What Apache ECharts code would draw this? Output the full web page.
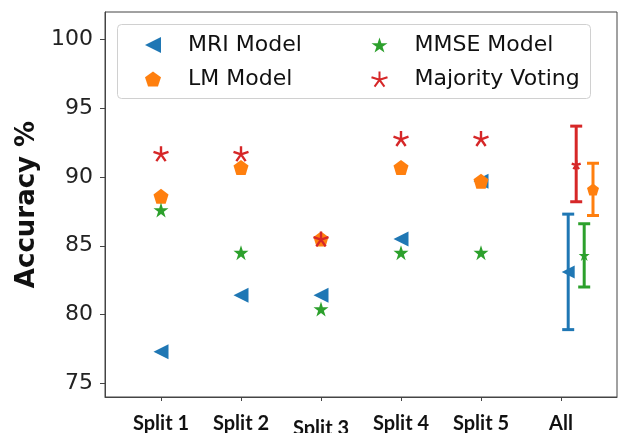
<!DOCTYPE html>
<html>
  <head>
    <meta charset="UTF-8" />
    <title>Accuracy per split</title>
    <style>
      html, body { margin: 0; padding: 0; background: #fff; }
      #chart { width: 638px; height: 433px; }
    </style>
    <script type="text/javascript" src="https://cdn.jsdelivr.net/npm/echarts@6.0.0/dist/echarts.min.js"></script>
  </head>
  <body>
    <div id="chart"></div>
    <script>
      // categories on the x axis
      var categories = ['Split 1', 'Split 2', 'Split 3', 'Split 4', 'Split 5', 'All'];
      var yTicks = [75, 80, 85, 90, 95, 100];

      // accuracy per split
      var mriSplit = [77.3, 81.4, 81.4, 85.5, 89.7];
      var lmSplit = [88.6, 90.7, 85.5, 90.7, 89.7];
      var mmseSplit = [87.6, 84.5, 80.4, 84.5, 84.5];
      var mvSplit = [91.7, 91.7, 85.5, 92.8, 92.8];

      // "All" column: [mean, low, high]
      var mriAll = [83.1, 78.9, 87.3];
      var lmAll = [89.1, 87.2, 91.0];
      var mmseAll = [84.3, 82.0, 86.6];
      var mvAll = [90.9, 88.2, 93.7];
      // x position of each error bar in the "All" column (MRI, LM, MMSE, MV)
      var allX = [5.09, 5.4, 5.29, 5.19];

      var colors = ['#1f77b4', '#ff7f0e', '#2ca02c', '#d62728'];

      var triLeft = 'path://M-1,0 L1,-1 L1,1 Z';
      var pentagon = 'path://M0,-1 L0.951,-0.309 L0.588,0.809 L-0.588,0.809 L-0.951,-0.309 Z';
      var star = 'path://M0,-1 L0.2245,-0.309 L0.951,-0.309 L0.3633,0.118 L0.588,0.809 L0,0.382 L-0.588,0.809 L-0.3633,0.118 L-0.951,-0.309 L-0.2245,-0.309 Z';
      var asterisk = 'path://M0,0 L0,-1 M0,0 L0.951,-0.309 M0,0 L0.588,0.809 M0,0 L-0.588,0.809 M0,0 L-0.951,-0.309';

      var myChart = echarts.init(document.getElementById('chart'));

      function points(split, all, idx, allSize) {
        var d = split.map(function (v, i) { return [i, v]; });
        d.push({ value: [allX[idx], all[0]], symbolSize: allSize });
        return d;
      }

      // error bars for the "All" column
      var errData = [
        [allX[0], mriAll[1], mriAll[2], 0],
        [allX[1], lmAll[1], lmAll[2], 1],
        [allX[2], mmseAll[1], mmseAll[2], 2],
        [allX[3], mvAll[1], mvAll[2], 3]
      ];

      function renderErr(params, api) {
        var x = api.value(0);
        var top = api.coord([x, api.value(2)]);
        var bot = api.coord([x, api.value(1)]);
        var st = { stroke: colors[api.value(3)], lineWidth: 3 };
        var w = 6;
        return {
          type: 'group',
          children: [
            { type: 'line', shape: { x1: top[0], y1: top[1], x2: bot[0], y2: bot[1] }, style: st },
            { type: 'line', shape: { x1: top[0] - w, y1: top[1], x2: top[0] + w, y2: top[1] }, style: st },
            { type: 'line', shape: { x1: bot[0] - w, y1: bot[1], x2: bot[0] + w, y2: bot[1] }, style: st }
          ]
        };
      }

      var legendText = {
        fontFamily: 'DejaVu Sans',
        fontSize: 22,
        color: '#111',
        padding: [0, 0, 0, 22]
      };

      var option = {
        animation: false,
        grid: {
          left: 105, right: 21, top: 12, bottom: 36,
          outerBoundsMode: 'none',
          show: true, borderColor: '#444', borderWidth: 1
        },
        graphic: [{
          type: 'rect',
          left: 117, top: 24,
          shape: { width: 473, height: 74, r: 4 },
          style: { fill: 'rgba(255,255,255,0.8)', stroke: '#d0d0d0', lineWidth: 1 },
          z: 50
        }],
        legend: [
          {
            data: ['MRI Model', 'LM Model'],
            orient: 'vertical', left: 140, top: 29,
            itemWidth: 16, itemHeight: 16, itemGap: 12,
            textStyle: legendText, z: 60
          },
          {
            data: ['MMSE Model', 'Majority Voting'],
            orient: 'vertical', left: 364, top: 29,
            itemWidth: 16, itemHeight: 16, itemGap: 12,
            textStyle: legendText, z: 60
          }
        ],
        xAxis: {
          type: 'value',
          min: -0.7, max: 5.7,
          splitLine: { show: false },
          axisLine: { show: true, onZero: false, lineStyle: { color: '#444' } },
          axisTick: { show: true, length: 4, customValues: [0, 1, 2, 3, 4, 5], lineStyle: { color: '#444' } },
          axisLabel: {
            customValues: [0, 1, 2, 3, 4, 5],
            margin: 17,
            fontFamily: 'Lato',
            fontWeight: 'bold',
            fontSize: 20,
            color: '#111',
            formatter: function (v) {
              var i = Math.round(v);
              return i === 2 ? '{low|' + categories[i] + '}' : categories[i];
            },
            rich: {
              low: { fontFamily: 'Lato', fontWeight: 'bold', fontSize: 20, color: '#111', padding: [5, 0, 0, 0] }
            }
          }
        },
        yAxis: {
          type: 'value',
          min: 74, max: 102,
          name: 'Accuracy %',
          nameLocation: 'middle',
          nameGap: 61,
          nameTextStyle: { fontFamily: 'DejaVu Sans', fontWeight: 'bold', fontSize: 26, color: '#111' },
          splitLine: { show: false },
          axisLine: { show: true, onZero: false, lineStyle: { color: '#444' } },
          axisTick: { show: true, length: 5, customValues: yTicks, lineStyle: { color: '#444' } },
          axisLabel: {
            customValues: yTicks,
            margin: 12,
            fontFamily: 'DejaVu Sans',
            fontSize: 22,
            color: '#222'
          }
        },
        series: [
          {
            name: 'errors', type: 'custom', renderItem: renderErr,
            encode: { x: 0, y: [1, 2] }, data: errData, z: 1, silent: true
          },
          {
            name: 'MRI Model', type: 'scatter', symbol: triLeft, symbolSize: 15,
            itemStyle: { color: colors[0], opacity: 1 }, data: points(mriSplit, mriAll, 0, 13), z: 2
          },
          {
            name: 'LM Model', type: 'scatter', symbol: pentagon, symbolSize: 15,
            itemStyle: { color: colors[1], opacity: 1 }, data: points(lmSplit, lmAll, 1, 12), z: 3
          },
          {
            name: 'MMSE Model', type: 'scatter', symbol: star, symbolSize: 15,
            itemStyle: { color: colors[2], opacity: 1 }, data: points(mmseSplit, mmseAll, 2, 11), z: 4
          },
          {
            name: 'Majority Voting', type: 'scatter', symbol: asterisk, symbolSize: 15,
            itemStyle: { color: 'none', borderColor: colors[3], borderWidth: 2.4, opacity: 1 },
            data: points(mvSplit, mvAll, 3, 9), z: 5
          }
        ]
      };

      myChart.setOption(option);
    </script>
  </body>
</html>
